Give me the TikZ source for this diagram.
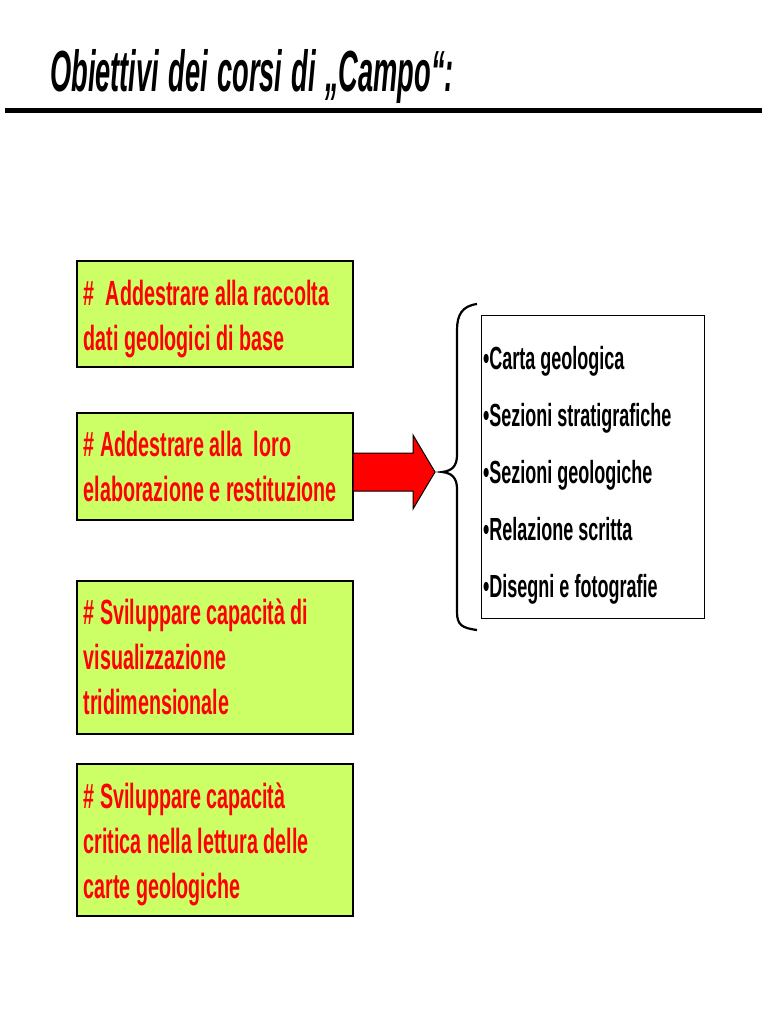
\documentclass[tikz,border=0pt]{standalone}
\usepackage{fontspec}
\newfontfamily\cf[FakeStretch=0.5625]{Liberation Sans}
\newfontfamily\tf[FakeStretch=0.47]{Liberation Sans}
\newcommand\tightsp{\spaceskip=0.16em\relax\xspaceskip=0.16em\relax\hyphenpenalty=10000\relax}
\newcommand\topstrut[1]{\rule{0pt}{#1}}
\usetikzlibrary{calc}
\definecolor{lgreen}{RGB}{204,255,102}
\definecolor{bred}{RGB}{255,0,0}
\tikzset{
  gbox/.style={draw=black, line width=1.5pt, fill=lgreen, anchor=north west,
    minimum width=276pt, text width=262pt, inner xsep=7pt, inner ysep=0pt, align=left,
    font=\cf\bfseries\fontsize{35}{45}\selectfont, text=bred, execute at begin node=\tightsp},
  lbox/.style={draw=black, line width=1pt, fill=white, anchor=north west,
    minimum width=223pt, minimum height=303pt, text width=219pt, inner xsep=2pt, align=left,
    font=\cf\bfseries\fontsize{32}{57}\selectfont, text=black, execute at begin node=\tightsp},
  bracestyle/.style={draw=black, line width=2.2pt},
}
\begin{document}
\begin{tikzpicture}[x=1pt,y=-1pt]
\useasboundingbox (0,0) rectangle (768,1024);
\node[anchor=base west, inner sep=0pt, font=\tf\bfseries\itshape\fontsize{58}{60}\selectfont\tightsp] (title) at (50,92) {Obiettivi dei corsi di „Campo“:};
\draw[line width=5pt] (5,111) coordinate (l1) -- (762,111) coordinate (l2);

\node[gbox, minimum height=106pt] (b1) at (76,260) {\topstrut{36pt}\#\ \ Addestrare alla raccolta\\dati geologici di base};
\node[gbox, minimum height=107pt] (b2) at (76,412) {\# Addestrare alla\ \ loro\\elaborazione e restituzione};
\node[gbox, minimum height=153pt] (b3) at (76,580) {\# Sviluppare capacità di\\visualizzazione\\tridimensionale};
\node[gbox, minimum height=152pt] (b4) at (76,763) {\topstrut{34pt}\# Sviluppare capacità\\critica nella lettura delle\\carte geologiche};

\node[lbox] (r) at (480.5,315) {\topstrut{40pt}•Carta geologica\\•Sezioni stratigrafiche\\•Sezioni geologiche\\•Relazione scritta\\•Disegni e fotografie};

\coordinate (bt) at (442,472);
\draw[bracestyle] (477,304) .. controls (462,306) and (457,315) .. (457,330) -- (457,455)
  .. controls (457,466) and (452,471) .. (bt)
  .. controls (452,473) and (457,478) .. (457,489) -- (457,612)
  .. controls (457,625) and (462,628) .. (477,630);

\coordinate (atip) at ($(bt)+(-7,0)$);
\filldraw[fill=bred, draw=black, line width=1pt]
  ($(b2.east|-atip)+(0,-19)$) -- ($(atip)+(-22,-19)$) -- ($(atip)+(-22,-37)$) -- (atip)
  -- ($(atip)+(-22,37)$) -- ($(atip)+(-22,19)$) -- ($(b2.east|-atip)+(0,19)$);
\end{tikzpicture}
\end{document}
